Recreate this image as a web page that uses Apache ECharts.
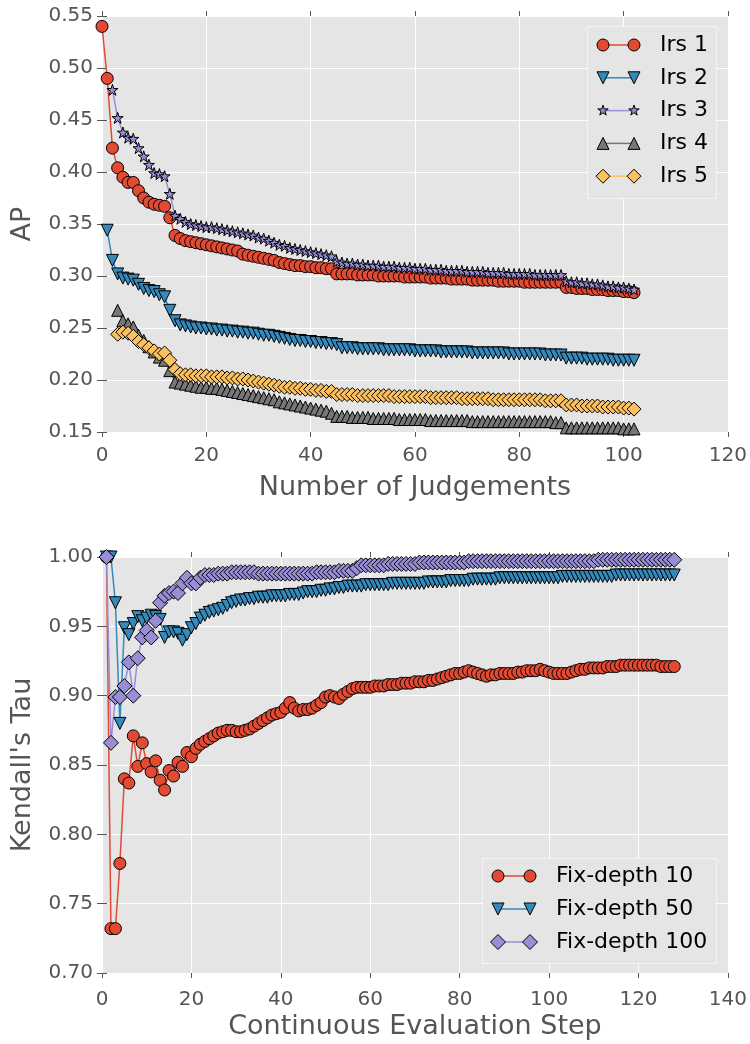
<!DOCTYPE html>
<html>
<head>
<meta charset="utf-8">
<script src="https://cdn.jsdelivr.net/npm/echarts@6/dist/echarts.min.js"></script>
<style>html,body{margin:0;padding:0;background:#fff;}#c{width:750px;height:1044px;}</style>
</head>
<body>
<div id="c"></div>
<script>
// ---------- Top chart data (AP vs Number of Judgements) ----------
const irsNames = ['Irs 1', 'Irs 2', 'Irs 3', 'Irs 4', 'Irs 5'];
const irsStarts = [0, 1, 2, 3, 3];
const irs1 = [0.540,0.490,0.423,0.404,0.395,0.390,0.390,0.382,0.375,0.371,
0.369,0.368,0.367,0.356,0.339,0.336,0.334,0.333,0.332,0.331,
0.330,0.329,0.328,0.327,0.326,0.325,0.324,0.321,0.320,0.319,
0.318,0.317,0.316,0.315,0.313,0.312,0.311,0.310,0.310,0.309,
0.309,0.308,0.308,0.307,0.307,0.302,0.302,0.302,0.302,0.301,
0.301,0.301,0.301,0.300,0.300,0.300,0.300,0.300,0.299,0.299,
0.299,0.299,0.299,0.298,0.298,0.298,0.298,0.297,0.297,0.297,
0.297,0.296,0.296,0.296,0.296,0.296,0.295,0.295,0.295,0.295,
0.295,0.294,0.294,0.294,0.294,0.294,0.294,0.294,0.294,0.289,
0.289,0.288,0.288,0.288,0.287,0.287,0.287,0.286,0.286,0.286,
0.285,0.285,0.284];
const irs2 = [0.344,0.315,0.302,0.298,0.297,0.296,0.292,0.288,0.286,0.285,
0.282,0.280,0.267,0.257,0.253,0.252,0.251,0.250,0.250,0.249,
0.249,0.248,0.248,0.247,0.247,0.246,0.246,0.245,0.245,0.244,
0.243,0.243,0.242,0.241,0.240,0.239,0.238,0.238,0.237,0.237,
0.236,0.236,0.235,0.235,0.234,0.231,0.231,0.231,0.230,0.230,
0.230,0.230,0.230,0.229,0.229,0.229,0.229,0.229,0.229,0.228,
0.228,0.228,0.228,0.228,0.227,0.227,0.227,0.227,0.227,0.227,
0.226,0.226,0.226,0.226,0.226,0.226,0.226,0.225,0.225,0.225,
0.225,0.225,0.225,0.225,0.224,0.224,0.224,0.224,
0.221,0.221,0.221,0.221,0.220,0.220,0.220,0.220,0.220,0.219,0.219,0.219,0.219,0.219];
const irs3 = [0.479,0.452,0.438,0.433,0.432,0.423,0.415,0.407,0.399,0.398,
0.396,0.379,0.358,0.355,0.352,0.350,0.349,0.348,0.347,0.347,
0.346,0.345,0.344,0.343,0.342,0.341,0.340,0.339,0.337,0.336,
0.334,0.332,0.330,0.329,0.327,0.326,0.325,0.324,0.323,0.322,
0.321,0.320,0.319,0.314,0.313,0.312,0.312,0.311,0.311,0.310,
0.310,0.310,0.309,0.309,0.309,0.308,0.308,0.308,0.307,0.307,
0.307,0.306,0.306,0.306,0.305,0.305,0.305,0.305,0.304,0.304,
0.304,0.304,0.303,0.303,0.303,0.303,0.302,0.302,0.302,0.302,
0.302,0.301,0.301,0.301,0.301,0.301,0.301,
0.295,0.294,0.294,0.293,0.293,0.292,0.292,0.291,0.290,0.290,0.289,0.289,0.288,0.287];
const irs4 = [0.267,0.257,0.254,0.251,0.243,0.238,0.232,0.227,0.222,0.219,
0.209,0.198,0.197,0.196,0.195,0.194,0.193,0.193,0.192,0.192,
0.191,0.190,0.189,0.188,0.187,0.186,0.185,0.184,0.183,0.182,
0.181,0.179,0.178,0.177,0.176,0.175,0.174,0.173,0.172,0.171,
0.170,0.168,0.165,0.165,0.165,0.164,0.164,0.164,0.164,0.163,
0.163,0.163,0.163,0.163,0.162,0.162,0.162,0.162,0.162,0.162,
0.161,0.161,0.161,0.161,0.161,0.161,0.161,0.161,0.160,0.160,
0.160,0.160,0.160,0.160,0.160,0.160,0.160,0.160,0.160,0.160,
0.160,0.160,0.160,0.160,0.159,0.159,
0.154,0.154,0.154,0.154,0.154,0.154,0.154,0.154,0.154,0.154,0.154,0.153,0.153,0.153];
const irs5 = [0.244,0.246,0.245,0.242,0.237,0.234,0.231,0.228,0.225,0.226,
0.219,0.210,0.206,0.205,0.205,0.204,0.204,0.204,0.203,0.203,
0.203,0.202,0.202,0.201,0.201,0.200,0.199,0.198,0.197,0.196,
0.195,0.194,0.193,0.193,0.192,0.192,0.191,0.191,0.190,0.190,
0.189,0.189,0.186,0.186,0.186,0.186,0.185,0.185,0.185,0.185,
0.185,0.185,0.185,0.184,0.184,0.184,0.184,0.184,0.184,0.184,
0.183,0.183,0.183,0.183,0.183,0.183,0.182,0.182,0.182,0.182,
0.182,0.182,0.181,0.181,0.181,0.181,0.181,0.181,0.181,0.181,
0.181,0.181,0.180,0.180,0.180,0.180,
0.176,0.176,0.176,0.175,0.175,0.175,0.175,0.174,0.174,0.174,0.174,0.173,0.173,0.172];
const topXTicks = [0, 20, 40, 60, 80, 100, 120];
const topYTicks = [0.15, 0.20, 0.25, 0.30, 0.35, 0.40, 0.45, 0.50, 0.55];

// ---------- Bottom chart data (Kendall's Tau vs step) ----------
const fdNames = ['Fix-depth 10', 'Fix-depth 50', 'Fix-depth 100'];
const fdStart = 1;
const fd10 = [1.000,0.732,0.732,0.779,0.840,0.837,0.871,0.849,0.866,0.851,
0.845,0.853,0.839,0.832,0.846,0.842,0.852,0.849,0.859,0.856,
0.862,0.865,0.867,0.869,0.871,0.873,0.874,0.875,0.875,0.874,
0.874,0.875,0.876,0.878,0.880,0.882,0.884,0.886,0.887,0.888,
0.891,0.895,0.891,0.889,0.890,0.890,0.891,0.893,0.895,0.899,
0.900,0.899,0.898,0.901,0.903,0.905,0.906,0.906,0.906,0.906,
0.907,0.907,0.907,0.908,0.908,0.908,0.909,0.909,0.909,0.910,
0.910,0.910,0.911,0.911,0.912,0.913,0.914,0.915,0.916,0.916,
0.917,0.918,0.917,0.916,0.915,0.914,0.915,0.915,0.916,0.916,
0.916,0.916,0.917,0.917,0.918,0.918,0.918,0.919,0.918,0.917,
0.916,0.916,0.916,0.916,0.917,0.918,0.919,0.919,0.920,0.920,
0.920,0.920,0.921,0.921,0.921,0.922,0.922,0.922,0.922,0.922,
0.922,0.922,0.922,0.922,0.921,0.921,0.921,0.921];
const fd50 = [1.000,1.000,0.967,0.880,0.949,0.944,0.952,0.957,0.954,0.956,
0.958,0.957,0.955,0.942,0.946,0.946,0.945,0.940,0.944,0.949,
0.952,0.956,0.958,0.960,0.961,0.962,0.963,0.965,0.967,0.968,
0.969,0.969,0.970,0.970,0.971,0.971,0.971,0.972,0.972,0.972,
0.972,0.973,0.973,0.973,0.974,0.975,0.975,0.975,0.976,0.976,
0.977,0.977,0.978,0.978,0.979,0.979,0.979,0.979,0.980,0.980,
0.980,0.980,0.980,0.980,0.981,0.981,0.981,0.981,0.981,0.981,
0.981,0.981,0.982,0.982,0.982,0.982,0.982,0.983,0.983,0.983,
0.983,0.983,0.984,0.984,0.984,0.984,0.984,0.984,0.985,0.985,
0.985,0.985,0.985,0.985,0.985,0.985,0.985,0.985,0.985,0.985,
0.985,0.985,0.986,0.986,0.986,0.986,0.986,0.986,0.986,0.986,
0.986,0.986,0.986,0.986,0.987,0.987,0.987,0.987,0.987,0.987,
0.987,0.987,0.987,0.987,0.987,0.987,0.987,0.987];
const fd100 = [1.000,0.866,0.899,0.899,0.907,0.924,0.900,0.927,0.942,0.947,
0.942,0.954,0.967,0.972,0.974,0.975,0.974,0.981,0.985,0.981,
0.981,0.985,0.987,0.987,0.987,0.988,0.988,0.988,0.989,0.989,
0.989,0.989,0.989,0.989,0.988,0.988,0.988,0.988,0.988,0.988,
0.988,0.988,0.988,0.988,0.988,0.988,0.988,0.989,0.989,0.989,
0.989,0.989,0.990,0.990,0.990,0.990,0.992,0.994,0.994,0.994,
0.994,0.994,0.994,0.995,0.995,0.995,0.995,0.995,0.995,0.995,
0.996,0.996,0.996,0.996,0.996,0.996,0.996,0.996,0.996,0.996,
0.996,0.997,0.997,0.997,0.997,0.997,0.997,0.997,0.997,0.997,
0.997,0.997,0.997,0.997,0.997,0.997,0.997,0.997,0.997,0.997,
0.997,0.997,0.997,0.997,0.997,0.997,0.997,0.997,0.997,0.997,
0.998,0.998,0.998,0.998,0.998,0.998,0.998,0.998,0.998,0.998,
0.998,0.998,0.998,0.998,0.998,0.998,0.998,0.998];
const botXTicks = [0, 20, 40, 60, 80, 100, 120, 140];
const botYTicks = [0.70, 0.75, 0.80, 0.85, 0.90, 0.95, 1.00];

// ---------- styling ----------
const FONT = 'DejaVu Sans';
const BG = '#E5E5E5';
const TICKC = '#555555';
const C_RED = '#E24A33', C_BLUE = '#348ABD', C_PURPLE = '#988ED5', C_GRAY = '#777777', C_YEL = '#FBC15E';

function starPts(cx, cy, R) {
  const pts = [];
  const r = R * 0.382;
  for (let i = 0; i < 10; i++) {
    const a = -Math.PI / 2 + i * Math.PI / 5;
    const rr = (i % 2 === 0) ? R : r;
    pts.push([cx + rr * Math.cos(a), cy + rr * Math.sin(a)]);
  }
  return pts;
}
const starPath = 'path://' + starPts(10, 10, 10).map((p, i) => (i ? 'L' : 'M') + p[0].toFixed(2) + ',' + p[1].toFixed(2)).join(' ') + ' Z';

function pairs(start, arr) { return arr.map((v, i) => [start + i, v]); }

const topSeriesData = [irs1, irs2, irs3, irs4, irs5];
const topStyles = [
  { color: C_RED, symbol: 'circle', size: 12, rot: 0, shape: 'circle' },
  { color: C_BLUE, symbol: 'triangle', size: 12, rot: 180, shape: 'tridown' },
  { color: C_PURPLE, symbol: starPath, size: 11, rot: 0, shape: 'star' },
  { color: C_GRAY, symbol: 'triangle', size: 12, rot: 0, shape: 'triup' },
  { color: C_YEL, symbol: 'diamond', size: 14, rot: 0, shape: 'diamond' }
];
const botSeriesData = [fd10, fd50, fd100];
const botStyles = [
  { color: C_RED, symbol: 'circle', size: 12, rot: 0, shape: 'circle' },
  { color: C_BLUE, symbol: 'triangle', size: 12, rot: 180, shape: 'tridown' },
  { color: C_PURPLE, symbol: 'diamond', size: 15, rot: 0, shape: 'diamond' }
];

function mkSeries(name, data, st, xi, yi) {
  return {
    name: name, type: 'line', xAxisIndex: xi, yAxisIndex: yi, data: data,
    symbol: st.symbol, symbolSize: st.size, symbolRotate: st.rot, showAllSymbol: true,
    itemStyle: { color: st.color, borderColor: '#000', borderWidth: 1 },
    lineStyle: { color: st.color, width: 1.5 },
    emphasis: { disabled: true }, animation: false, clip: true
  };
}

const series = [];
topSeriesData.forEach((d, i) => series.push(mkSeries(irsNames[i], pairs(irsStarts[i], d), topStyles[i], 0, 0)));
botSeriesData.forEach((d, i) => series.push(mkSeries(fdNames[i], pairs(fdStart, d), botStyles[i], 2, 2)));

function valAxis(o, labelMargin) {
  return Object.assign({
    type: 'value',
    axisLine: { show: false },
    axisTick: { show: true, length: 5, lineStyle: { color: TICKC, width: 1 } },
    axisLabel: { color: TICKC, fontSize: 20, fontFamily: FONT, margin: labelMargin },
    splitLine: { show: true, lineStyle: { color: '#ffffff', width: 1 } },
    nameTextStyle: { color: TICKC, fontSize: 27, fontFamily: FONT }
  }, o);
}
function ghostAxis(base, pos) {
  const a = valAxis({ min: base.min, max: base.max, interval: base.interval, gridIndex: base.gridIndex, position: pos }, 8);
  a.axisLabel = { show: false };
  a.splitLine = { show: false };
  return a;
}

const xTop = valAxis({ gridIndex: 0, min: topXTicks[0], max: topXTicks[topXTicks.length - 1], interval: topXTicks[1] - topXTicks[0],
  name: 'Number of Judgements', nameLocation: 'middle', nameGap: 42 }, 14);
const yTop = valAxis({ gridIndex: 0, min: topYTicks[0], max: topYTicks[topYTicks.length - 1], interval: 0.05,
  name: 'AP', nameLocation: 'middle', nameGap: 66 }, 9);
yTop.axisLabel.formatter = v => v.toFixed(2);
const xBot = valAxis({ gridIndex: 1, min: botXTicks[0], max: botXTicks[botXTicks.length - 1], interval: botXTicks[1] - botXTicks[0],
  name: 'Continuous Evaluation Step', nameLocation: 'middle', nameGap: 40 }, 17);
const yBot = valAxis({ gridIndex: 1, min: botYTicks[0], max: botYTicks[botYTicks.length - 1], interval: 0.05,
  name: "Kendall's Tau", nameLocation: 'middle', nameGap: 66 }, 9);
yBot.axisLabel.formatter = v => v.toFixed(2);

// ---------- legends drawn as graphics ----------
function markerEl(shape, cx, cy, s, color) {
  const style = { fill: color, stroke: '#000', lineWidth: 1 };
  const h = s / 2;
  if (shape === 'circle') return { type: 'circle', shape: { cx: cx, cy: cy, r: h }, style: style, z: 102 };
  let pts;
  if (shape === 'tridown') pts = [[cx - h, cy - h], [cx + h, cy - h], [cx, cy + h]];
  else if (shape === 'triup') pts = [[cx - h, cy + h], [cx + h, cy + h], [cx, cy - h]];
  else if (shape === 'diamond') pts = [[cx, cy - h], [cx + h, cy], [cx, cy + h], [cx - h, cy]];
  else pts = starPts(cx, cy, h);
  return { type: 'polygon', shape: { points: pts }, style: style, z: 102 };
}
function legendEls(box, names, styles, row0, rowGap, mx1, mx2, tx) {
  const els = [{ type: 'rect', shape: { x: box.x, y: box.y, width: box.w, height: box.h },
    style: { fill: BG, stroke: '#f4f4f4', lineWidth: 1 }, z: 100 }];
  names.forEach((n, i) => {
    const cy = row0 + i * rowGap, st = styles[i];
    els.push({ type: 'line', shape: { x1: mx1, y1: cy, x2: mx2, y2: cy }, style: { stroke: st.color, lineWidth: 1.5 }, z: 101 });
    els.push(markerEl(st.shape, mx1, cy, st.size, st.color));
    els.push(markerEl(st.shape, mx2, cy, st.size, st.color));
    els.push({ type: 'text', style: { text: n, x: tx, y: cy, font: '22px "DejaVu Sans"', fill: '#000', verticalAlign: 'middle', align: 'left' }, z: 102 });
  });
  return els;
}

const graphic = [].concat(
  legendEls({ x: 587.5, y: 26.5, w: 129, h: 172 }, irsNames, topStyles, 45, 32.8, 603, 634, 660),
  legendEls({ x: 482.5, y: 858.5, w: 234, h: 105 }, fdNames, botStyles, 876, 33, 498, 530, 556)
);

const option = {
  animation: false,
  backgroundColor: '#ffffff',
  textStyle: { fontFamily: FONT },
  grid: [
    { left: 102, top: 16, width: 626, height: 416, show: true, backgroundColor: BG, borderWidth: 0, containLabel: false },
    { left: 102, top: 557, width: 627, height: 416, show: true, backgroundColor: BG, borderWidth: 0, containLabel: false }
  ],
  xAxis: [xTop, ghostAxis(xTop, 'top'), xBot, ghostAxis(xBot, 'top')],
  yAxis: [yTop, ghostAxis(yTop, 'right'), yBot, ghostAxis(yBot, 'right')],
  series: series,
  graphic: graphic
};

const chart = echarts.init(document.getElementById('c'), null, { renderer: 'canvas' });
chart.setOption(option);
</script>
</body>
</html>
